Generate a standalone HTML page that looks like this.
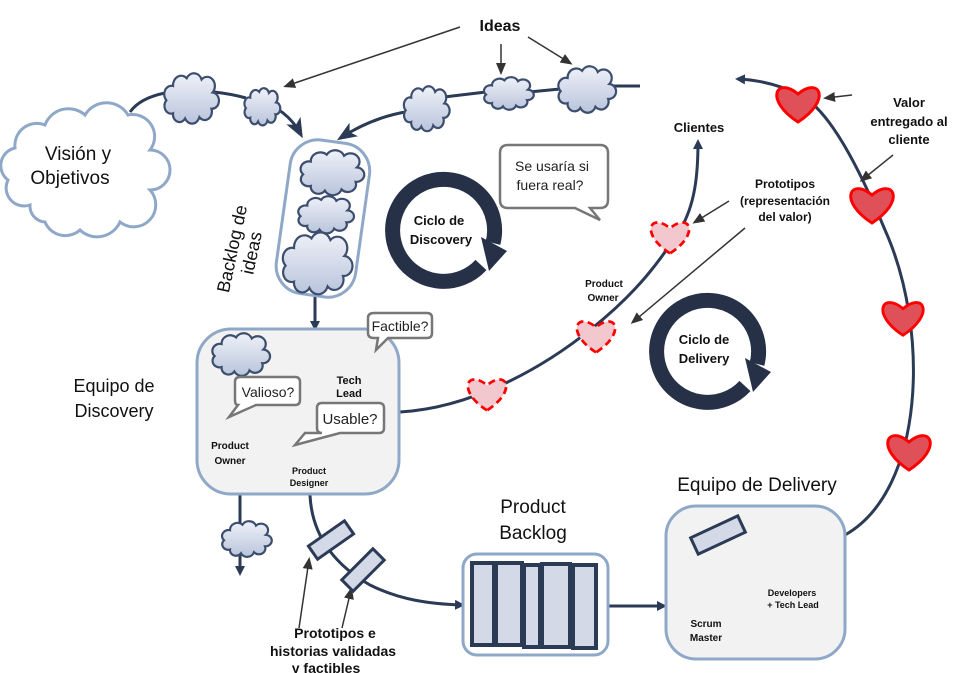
<!DOCTYPE html>
<html><head><meta charset="utf-8"><style>
html,body{margin:0;padding:0;background:#fff;}
svg{display:block;font-family:"Liberation Sans",sans-serif;}
</style></head><body>
<svg width="960" height="673" viewBox="0 0 960 673" xmlns="http://www.w3.org/2000/svg">
<defs>
<linearGradient id="cg" x1="0" y1="0" x2="0" y2="1"><stop offset="0" stop-color="#eef1f8"/><stop offset="1" stop-color="#b9c4db"/></linearGradient>
<path id="cloud" d="M20,62 A12,12 0 0 1 8,42 A13,13 0 0 1 20,20 A15,15 0 0 1 45,8 A15,15 0 0 1 72,10 A14,14 0 0 1 92,30 A12,12 0 0 1 90,55 A13,13 0 0 1 68,68 A14,14 0 0 1 42,70 A12,12 0 0 1 20,62 Z" fill="url(#cg)" stroke="#3d4d6e" stroke-width="2.2" vector-effect="non-scaling-stroke"/>
<path id="heart" d="M0,16 C-34,-6 -22,-30 0,-12 C22,-30 34,-6 0,16 Z"/>
<marker id="ah" markerWidth="10" markerHeight="10" refX="7" refY="5" orient="auto" markerUnits="userSpaceOnUse"><path d="M0,0 L10,5 L0,10 Z" fill="#2b3a55"/></marker>
<marker id="ahg" markerWidth="12" markerHeight="12" refX="9" refY="6" orient="auto" markerUnits="userSpaceOnUse"><path d="M0,1 L12,6 L0,11 Z" fill="#333"/></marker>
<marker id="ahb" markerWidth="20" markerHeight="16" refX="14" refY="8" orient="auto" markerUnits="userSpaceOnUse"><path d="M0,0 L20,8 L0,16 L5,8 Z" fill="#2b3a55"/></marker>
</defs>

<!-- dark connectors -->
<g fill="none" stroke="#2b3a55" stroke-width="3">
<path d="M130,112 Q140,98 165,93"/>
<path d="M214,92 Q232,94 246,98"/>
<path d="M276,108 Q292,118 300,133" marker-end="url(#ahb)"/>
<path d="M405,112 Q372,118 342,137" marker-end="url(#ahb)"/>
<path d="M444,97 L486,92"/>
<path d="M529,92 L560,89"/>
<path d="M612,86 L640,86"/>
<path d="M315,297 L315,328" marker-end="url(#ah)"/>
<path d="M400,412 C470,408 540,370 590,330 C640,290 660,260 680,230 C695,205 698,175 698,142" marker-end="url(#ah)"/>
<path d="M845,535 C925,490 930,330 885,230 C860,170 830,110 800,95 C780,85 760,80 738,79" marker-end="url(#ah)"/>
<path d="M240,495 L240,573" marker-end="url(#ah)"/>
<path d="M310,495 C312,540 340,568 370,585 C400,600 430,604 462,605" marker-end="url(#ah)"/>
<path d="M608,606 L664,606" marker-end="url(#ah)"/>
</g>

<!-- gray arrows -->
<g fill="none" stroke="#333" stroke-width="1.5">
<path d="M460,27 L286,86" marker-end="url(#ahg)"/>
<path d="M501,44 L501,72" marker-end="url(#ahg)"/>
<path d="M528,37 L570,63" marker-end="url(#ahg)"/>
<path d="M852,95 L826,98" marker-end="url(#ahg)"/>
<path d="M893,155 L862,180" marker-end="url(#ahg)"/>
<path d="M729,201 L695,222" marker-end="url(#ahg)"/>
<path d="M745,228 L633,322" marker-end="url(#ahg)"/>
<path d="M299,628 L309,560" marker-end="url(#ahg)"/>
<path d="M342,628 L351,590" marker-end="url(#ahg)"/>
</g>

<!-- vision cloud -->
<path d="M30,205 A18,18 0 0 1 8,180 A18,18 0 0 1 15,148 A22,22 0 0 1 45,125 A25,25 0 0 1 85,115 A25,25 0 0 1 128,115 A22,22 0 0 1 150,150 A20,20 0 0 1 150,190 A22,22 0 0 1 120,222 A25,25 0 0 1 80,230 A22,22 0 0 1 45,222 A16,16 0 0 1 30,205 Z" fill="#fff" stroke="#8fa8c8" stroke-width="3"/>
<text x="78" y="160" font-size="19" text-anchor="middle" fill="#111">Visión y</text>
<text x="70" y="184" font-size="19" text-anchor="middle" fill="#111">Objetivos</text>

<!-- small clouds -->
<use href="#cloud" transform="translate(162,73) scale(0.55,0.65)"/>
<use href="#cloud" transform="translate(243,88) scale(0.36,0.48)"/>
<use href="#cloud" transform="translate(402,86) scale(0.46,0.58)"/>
<use href="#cloud" transform="translate(482,77) scale(0.5,0.42)"/>
<use href="#cloud" transform="translate(556,66) scale(0.58,0.6)"/>

<!-- Ideas -->
<text x="500" y="31" font-size="16" font-weight="bold" text-anchor="middle" fill="#111">Ideas</text>

<!-- backlog pill -->
<rect x="283" y="141" width="80" height="155" rx="28" fill="#fff" stroke="#8fa8c8" stroke-width="3" transform="rotate(8 323 218)"/>
<use href="#cloud" transform="translate(298,150) scale(0.64,0.58)"/>
<use href="#cloud" transform="translate(296,196) scale(0.56,0.48)"/>
<use href="#cloud" transform="translate(280,232) scale(0.7,0.8)"/>
<text font-size="18" fill="#111" transform="translate(238,250) rotate(-78)" text-anchor="middle"><tspan x="0" y="0">Backlog de</tspan><tspan x="0" y="20">ideas</tspan></text>

<!-- Discovery ring -->
<g transform="translate(443,231)">
<path d="M38,34 A51,51 0 1 1 50,12" fill="none" stroke="#263148" stroke-width="15"/>
<path d="M38,6 L64,20 L46,40 Z" fill="#263148"/>
<text x="-4" y="-6" font-size="13" font-weight="bold" text-anchor="middle" fill="#111">Ciclo de</text>
<text x="-2" y="13" font-size="13" font-weight="bold" text-anchor="middle" fill="#111">Discovery</text>
</g>

<!-- Delivery ring -->
<g transform="translate(707,352)">
<path d="M38,34 A51,51 0 1 1 50,12" fill="none" stroke="#263148" stroke-width="15"/>
<path d="M38,6 L64,20 L46,40 Z" fill="#263148"/>
<text x="-3" y="-8" font-size="13" font-weight="bold" text-anchor="middle" fill="#111">Ciclo de</text>
<text x="-3" y="11" font-size="13" font-weight="bold" text-anchor="middle" fill="#111">Delivery</text>
</g>

<!-- speech bubble Se usaria -->
<path d="M508,145 H600 Q608,145 608,153 V200 Q608,208 600,208 H590 L600,220 L575,208 H508 Q500,208 500,200 V153 Q500,145 508,145 Z" fill="#fff" stroke="#777" stroke-width="2.5"/>
<text x="552" y="171" font-size="14" text-anchor="middle" fill="#222">Se usaría si</text>
<text x="550" y="190" font-size="14" text-anchor="middle" fill="#222">fuera real?</text>

<!-- Discovery box -->
<rect x="197" y="329" width="202" height="165" rx="34" fill="#f2f2f2" stroke="#8fa8c8" stroke-width="3"/>
<use href="#cloud" transform="translate(210,333) scale(0.58,0.55)"/>
<path d="M374,313 H427 Q432,313 432,318 V333 Q432,338 427,338 H388 L376,350 L378,338 H374 Q368,338 368,333 V318 Q368,313 374,313 Z" fill="#fff" stroke="#777" stroke-width="2.5"/>
<text x="400" y="331" font-size="14" text-anchor="middle" fill="#222">Factible?</text>
<path d="M240,377 H295 Q300,377 300,382 V400 Q300,405 295,405 H256 L229,417 L238,405 Q235,405 235,400 V382 Q235,377 240,377 Z" fill="#fff" stroke="#777" stroke-width="2.5"/>
<text x="268" y="397" font-size="14" text-anchor="middle" fill="#222">Valioso?</text>
<path d="M322,403 H379 Q384,403 384,408 V428 Q384,433 379,433 H340 L295,445 L305,433 H322 Q317,433 317,428 V408 Q317,403 322,403 Z" fill="#fff" stroke="#777" stroke-width="2.5"/>
<text x="350" y="424" font-size="15" text-anchor="middle" fill="#222">Usable?</text>
<text x="349" y="384" font-size="11" font-weight="bold" text-anchor="middle" fill="#111">Tech</text>
<text x="349" y="397" font-size="11" font-weight="bold" text-anchor="middle" fill="#111">Lead</text>
<text x="230" y="449" font-size="10" font-weight="bold" text-anchor="middle" fill="#111">Product</text>
<text x="230" y="464" font-size="10" font-weight="bold" text-anchor="middle" fill="#111">Owner</text>
<text x="309" y="474" font-size="9" font-weight="bold" text-anchor="middle" fill="#111">Product</text>
<text x="309" y="486" font-size="9" font-weight="bold" text-anchor="middle" fill="#111">Designer</text>
<text x="114" y="392" font-size="18" text-anchor="middle" fill="#111">Equipo de</text>
<text x="114" y="417" font-size="18" text-anchor="middle" fill="#111">Discovery</text>

<use href="#cloud" transform="translate(220,521) scale(0.5,0.46)"/>

<!-- prototype cards -->
<g fill="#d3d9e6" stroke="#2b3a55" stroke-width="3">
<rect x="-22" y="-8" width="44" height="16" transform="translate(331,540) rotate(-35)"/>
<rect x="-22" y="-8" width="44" height="16" transform="translate(363,570) rotate(-45)"/>
<rect x="-26" y="-9" width="52" height="18" transform="translate(718,535) rotate(-25)"/>
</g>
<text x="335" y="638" font-size="14" font-weight="bold" text-anchor="middle" fill="#111">Prototipos e</text>
<text x="333" y="656" font-size="14" font-weight="bold" text-anchor="middle" fill="#111">historias validadas</text>
<text x="326" y="673" font-size="14" font-weight="bold" text-anchor="middle" fill="#111">y factibles</text>

<!-- Product backlog -->
<text x="533" y="513" font-size="19" text-anchor="middle" fill="#111">Product</text>
<text x="533" y="539" font-size="19" text-anchor="middle" fill="#111">Backlog</text>
<rect x="463" y="554" width="145" height="101" rx="14" fill="#fff" stroke="#8fa8c8" stroke-width="3"/>
<g fill="#d3d9e6" stroke="#2b3a55" stroke-width="4">
<rect x="472" y="563" width="22" height="82"/>
<rect x="496" y="563" width="26" height="82"/>
<rect x="524" y="565" width="16" height="82"/>
<rect x="542" y="564" width="28" height="83"/>
<rect x="573" y="565" width="23" height="83"/>
</g>

<!-- Delivery box -->
<text x="757" y="491" font-size="19" text-anchor="middle" fill="#111">Equipo de Delivery</text>
<rect x="666" y="506" width="179" height="153" rx="30" fill="#f2f2f2" stroke="#8fa8c8" stroke-width="3"/>
<g fill="#d3d9e6" stroke="#2b3a55" stroke-width="3">
<rect x="-26" y="-9" width="52" height="18" transform="translate(718,535) rotate(-25)"/>
</g>
<text x="706" y="627" font-size="10" font-weight="bold" text-anchor="middle" fill="#111">Scrum</text>
<text x="706" y="641" font-size="10" font-weight="bold" text-anchor="middle" fill="#111">Master</text>
<text x="792" y="596" font-size="9" font-weight="bold" text-anchor="middle" fill="#111">Developers</text>
<text x="793" y="608" font-size="9" font-weight="bold" text-anchor="middle" fill="#111">+ Tech Lead</text>

<!-- hearts solid -->
<g fill="#e05058" stroke="#ff0000" stroke-width="3">
<use href="#heart" transform="translate(798,106)"/>
<use href="#heart" transform="translate(872,207)"/>
<use href="#heart" transform="translate(903,320) scale(0.95)"/>
<use href="#heart" transform="translate(909,454)"/>
</g>
<!-- hearts dashed -->
<g fill="#f2c8ce" stroke="#ff0000" stroke-width="3" stroke-dasharray="8,5">
<use href="#heart" transform="translate(670,239) scale(0.9)"/>
<use href="#heart" transform="translate(596,338) scale(0.9)"/>
<use href="#heart" transform="translate(487,396) scale(0.9)"/>
</g>

<!-- right labels -->
<text x="699" y="132" font-size="13" font-weight="bold" text-anchor="middle" fill="#111">Clientes</text>
<text x="604" y="287" font-size="10" font-weight="bold" text-anchor="middle" fill="#111">Product</text>
<text x="603" y="301" font-size="10" font-weight="bold" text-anchor="middle" fill="#111">Owner</text>
<text x="785" y="188" font-size="12" font-weight="bold" text-anchor="middle" fill="#111">Prototipos</text>
<text x="785" y="205" font-size="12" font-weight="bold" text-anchor="middle" fill="#111">(representación</text>
<text x="785" y="221" font-size="12" font-weight="bold" text-anchor="middle" fill="#111">del valor)</text>
<text x="909" y="107" font-size="13" font-weight="bold" text-anchor="middle" fill="#111">Valor</text>
<text x="909" y="126" font-size="13" font-weight="bold" text-anchor="middle" fill="#111">entregado al</text>
<text x="909" y="144" font-size="13" font-weight="bold" text-anchor="middle" fill="#111">cliente</text>
</svg>
</body></html>
